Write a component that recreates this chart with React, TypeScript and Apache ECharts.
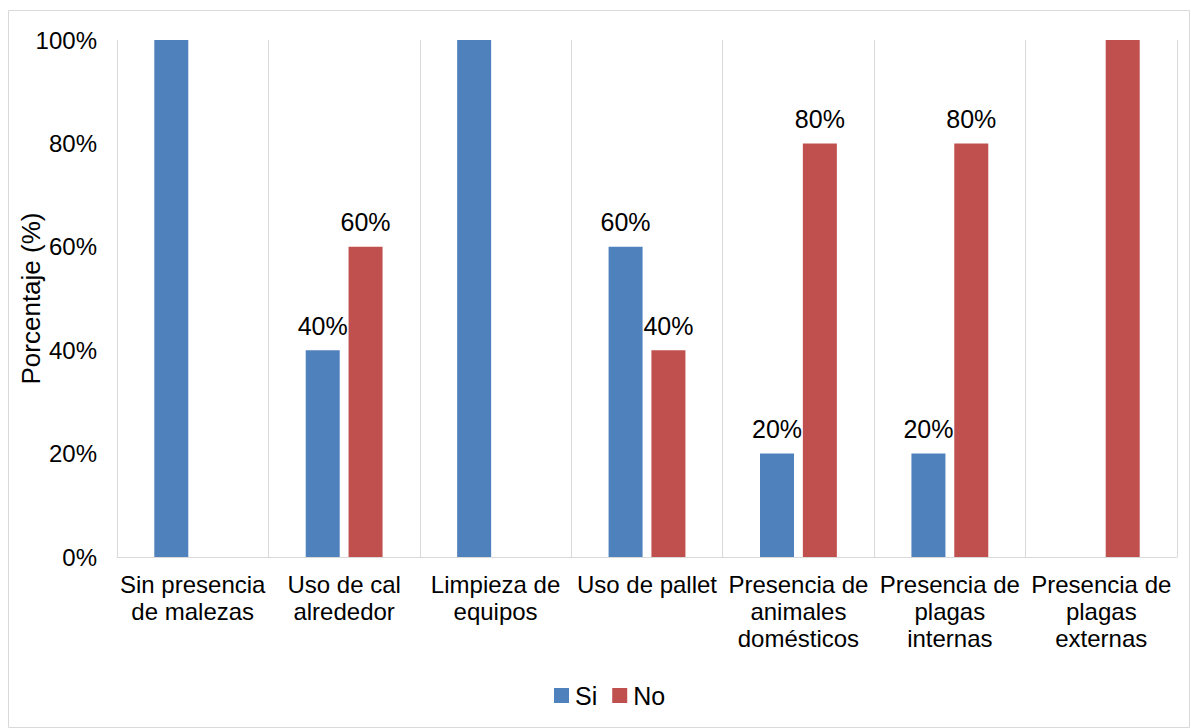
import React, { useEffect, useRef } from "react";
import * as echarts from "echarts";

const categories = [
  "Sin presencia\nde malezas",
  "Uso de cal\nalrededor",
  "Limpieza de\nequipos",
  "Uso de pallet",
  "Presencia de\nanimales\ndomésticos",
  "Presencia de\nplagas\ninternas",
  "Presencia de\nplagas\nexternas",
];
const siValues = [100, 40, 100, 60, 20, 20, 0];
const noValues = [0, 60, 0, 40, 80, 80, 100];
const seriesNames = ["Si", "No"];
const yTicks = [0, 20, 40, 60, 80, 100];

const FONT = "'Liberation Sans', Arial, sans-serif";

export default function App() {
  const ref = useRef<HTMLDivElement>(null);
  useEffect(() => {
    if (!ref.current) return;
    const chart = echarts.init(ref.current, undefined, { renderer: "svg" });
    const labelCfg = {
      show: true,
      position: "top",
      distance: 12,
      fontSize: 25,
      fontFamily: FONT,
      color: "#000",
      formatter: (p: any) => (p.value === 0 || p.value === 100 ? "" : p.value + "%"),
    };
    chart.setOption({
      animation: false,
      textStyle: { fontFamily: FONT },
      graphic: [
        {
          type: "rect",
          shape: { x: 8.5, y: 10.5, width: 1181, height: 717 },
          style: { fill: "none", stroke: "#d9d9d9", lineWidth: 1 },
          silent: true,
          z: -10,
        },
      ],
      grid: {
        left: 117,
        right: 14,
        top: 40,
        bottom: 171,
        containLabel: false,
        outerBoundsMode: "none",
      },
      legend: {
        left: 549,
        top: 678,
        itemWidth: 15,
        itemHeight: 15,
        itemGap: 15,
        icon: "rect",
        textStyle: { fontSize: 25, fontFamily: FONT, color: "#000", padding: [0, 0, 0, 1] },
        data: seriesNames,
      },
      xAxis: {
        type: "category",
        data: categories,
        axisLine: { show: true, lineStyle: { color: "#d9d9d9", width: 1 } },
        axisTick: { show: false },
        splitLine: { show: true, lineStyle: { color: "#d9d9d9", width: 1 } },
        axisLabel: {
          interval: 0,
          margin: 14,
          fontSize: 24,
          lineHeight: 27,
          fontFamily: FONT,
          color: "#000",
          align: "center",
        },
      },
      yAxis: {
        type: "value",
        min: 0,
        max: 100,
        interval: 20,
        name: "Porcentaje (%)",
        nameLocation: "middle",
        nameGap: 73,
        nameMoveOverlap: false,
        nameTextStyle: { fontSize: 26, fontFamily: FONT, color: "#000" },
        axisLine: { show: false },
        axisTick: { show: false },
        splitLine: { show: false },
        axisLabel: {
          margin: 20,
          fontSize: 24,
          fontFamily: FONT,
          color: "#000",
          formatter: (v: number) => (yTicks.includes(v) ? v + "%" : ""),
        },
      },
      series: [
        {
          name: seriesNames[0],
          type: "bar",
          data: siValues,
          barWidth: 34,
          barGap: "26%",
          itemStyle: { color: "#4F81BD" },
          label: labelCfg,
        },
        {
          name: seriesNames[1],
          type: "bar",
          data: noValues,
          barWidth: 34,
          barGap: "26%",
          itemStyle: { color: "#C0504D" },
          label: labelCfg,
        },
      ],
    });
    return () => chart.dispose();
  }, []);
  return (
    <div
      ref={ref}
      style={{ position: "fixed", left: 0, top: 0, width: 1191, height: 728, background: "#fff" }}
    />
  );
}
